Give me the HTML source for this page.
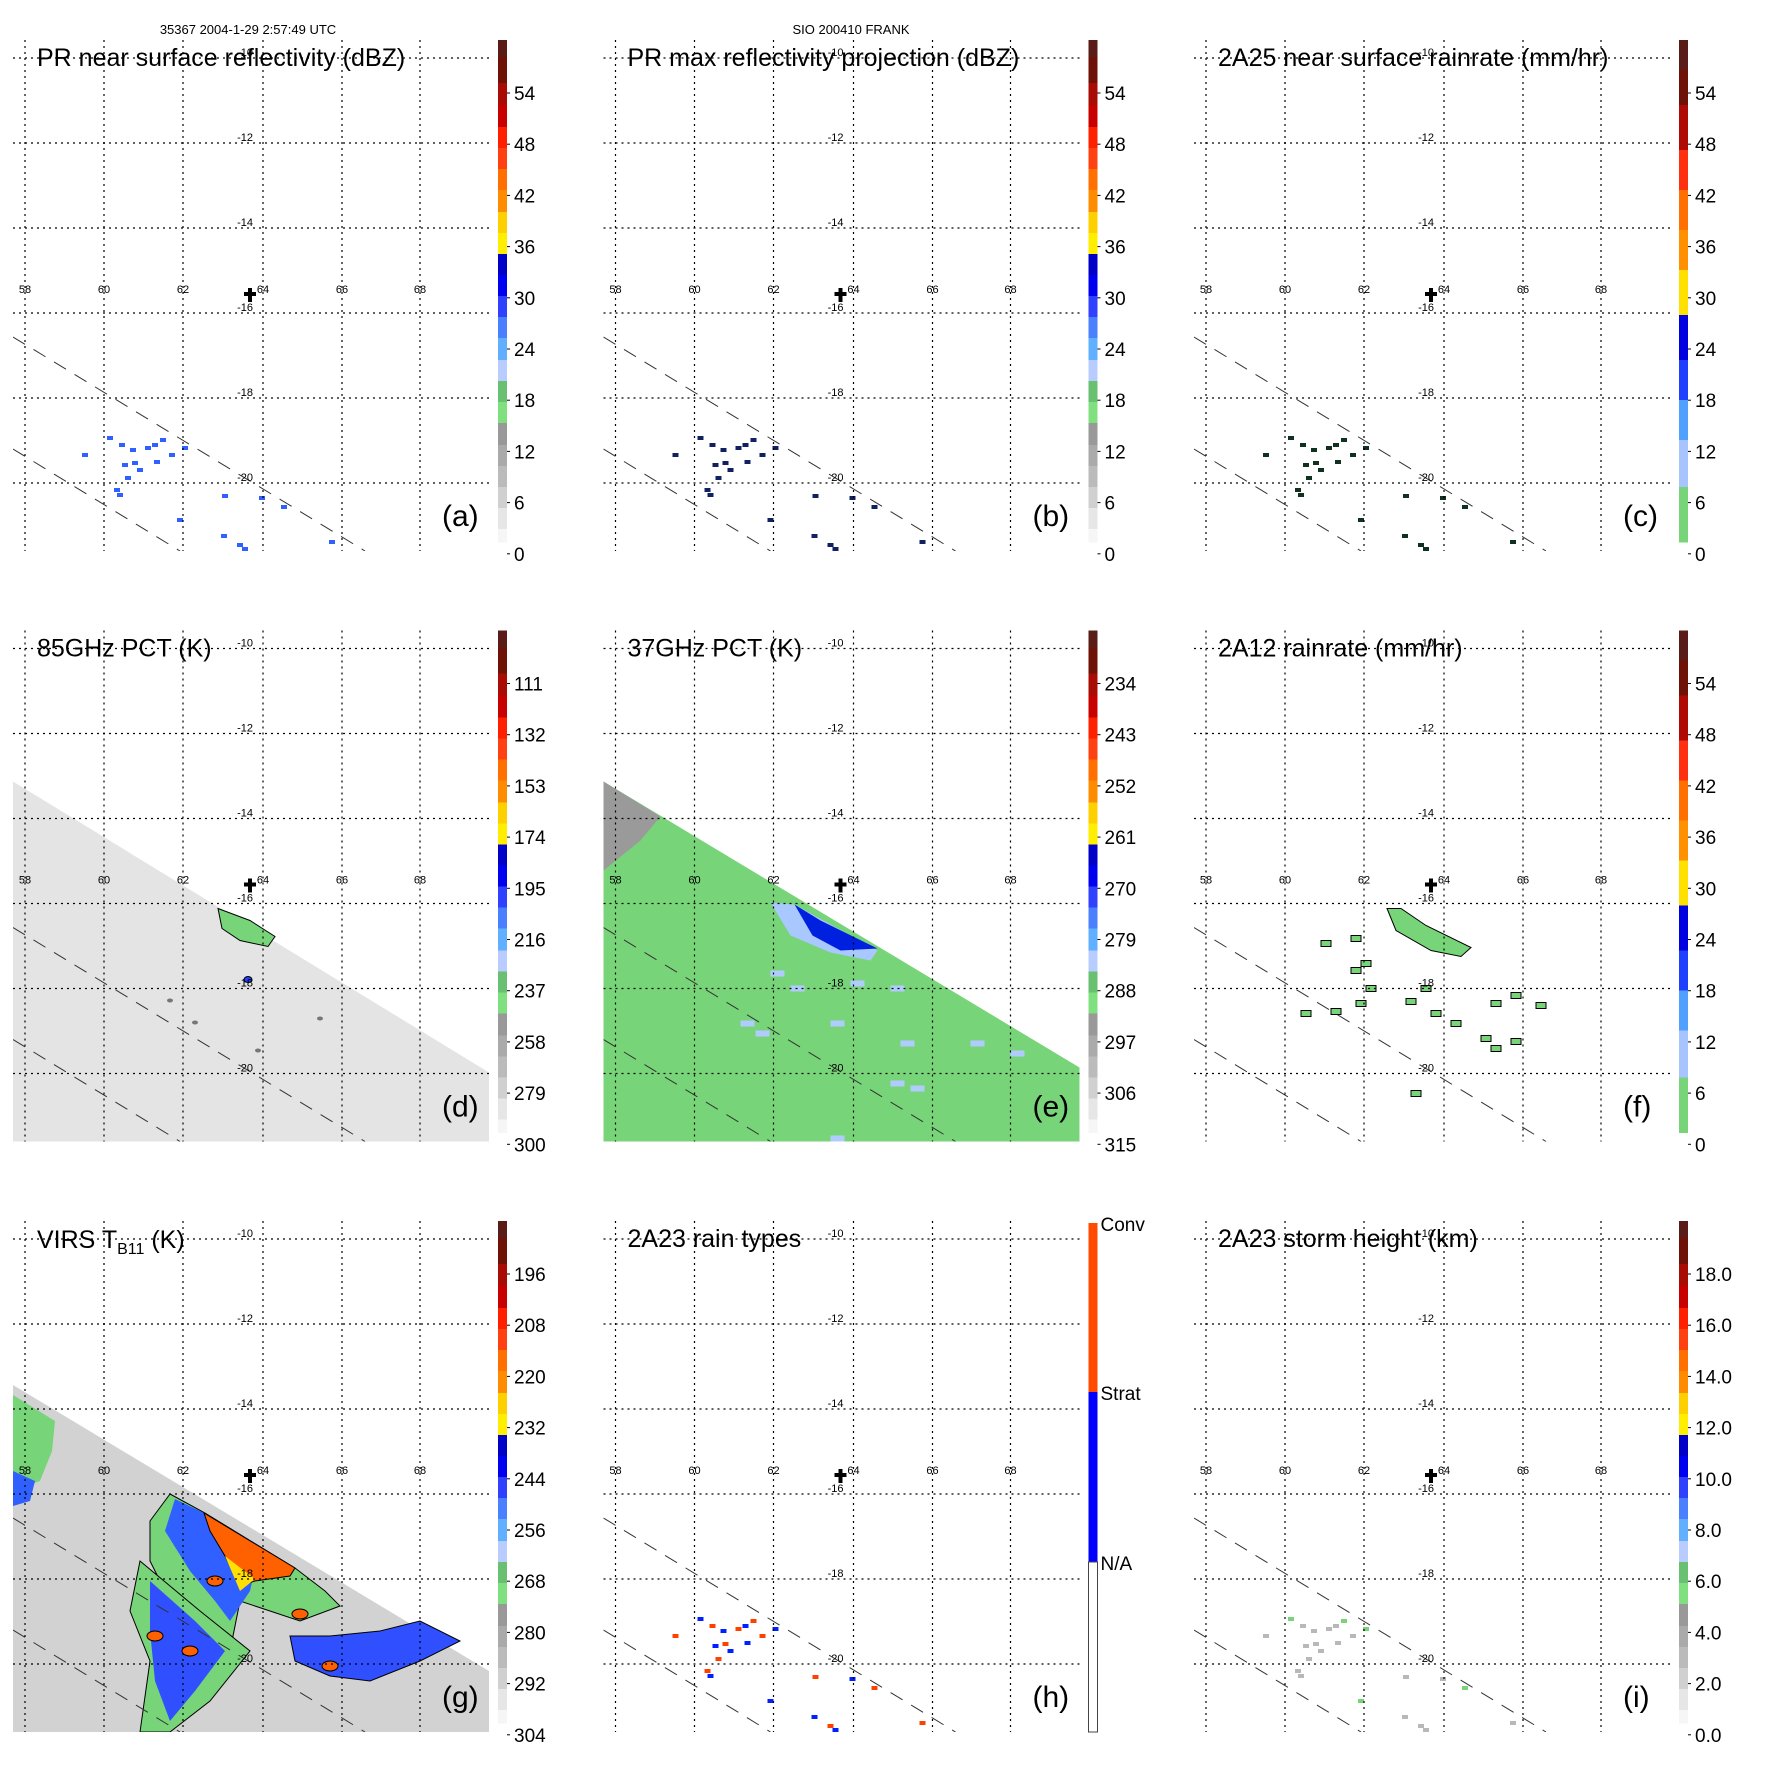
<!DOCTYPE html>
<html><head><meta charset="utf-8"><style>
html,body{margin:0;padding:0;background:#fff;}
svg{display:block;font-family:"Liberation Sans",sans-serif;}
</style></head><body>
<svg id="s" width="1771" height="1771" viewBox="0 0 1771 1771" xmlns="http://www.w3.org/2000/svg">
<rect width="1771" height="1771" fill="#fff"/>
<text x="248" y="34" font-size="13" text-anchor="middle">35367 2004-1-29 2:57:49 UTC</text>
<text x="851" y="34" font-size="13" text-anchor="middle">SIO 200410 FRANK</text>
</svg>
<script>
(function(){
var S=document.getElementById('s'),NS='http://www.w3.org/2000/svg',W=590.5;
function el(t,a,p,txt){var e=document.createElementNS(NS,t);for(var k in a)e.setAttribute(k,a[k]);if(txt!=null)e.textContent=txt;(p||S).appendChild(e);return e;}
var std=[[40,57,"#5a1c16"],[57,83,"#6e1208"],[83,105,"#a80c04"],[105,127,"#c80000"],[127,148,"#ff2000"],[148,169,"#ff4010"],[169,190,"#ff7000"],[190,212,"#ff8c00"],[212,233,"#ffd000"],[233,254,"#ffee00"],[254,275,"#0000c8"],[275,296,"#0000f0"],[296,317,"#3040ff"],[317,338,"#4a80ff"],[338,360,"#60b0ff"],[360,381,"#b8ccff"],[381,402,"#68c070"],[402,423,"#80e080"],[423,445,"#999"],[445,466,"#aaa"],[466,487,"#bbb"],[487,508,"#d0d0d0"],[508,529,"#e6e6e6"],[529,542,"#f6f6f6"]];
var rr=[[40,70,"#5a1c16"],[70,105,"#6e1208"],[105,150,"#b00a04"],[150,190,"#ff3010"],[190,230,"#ff7000"],[230,270,"#ff9000"],[270,315,"#ffe000"],[315,360,"#0000e0"],[360,400,"#2040ff"],[400,440,"#50a0ff"],[440,487,"#a8c4ff"],[487,542,"#78d478"]];
var P=[
{c:0,r:0,t:"PR near surface reflectivity (dBZ)",l:"(a)",cb:std,tk:["54","48","42","36","30","24","18","12","6","0"],d:"a"},
{c:1,r:0,t:"PR max reflectivity projection (dBZ)",l:"(b)",cb:std,tk:["54","48","42","36","30","24","18","12","6","0"],d:"b"},
{c:2,r:0,t:"2A25 near surface rainrate (mm/hr)",l:"(c)",cb:rr,tk:["54","48","42","36","30","24","18","12","6","0"],d:"c"},
{c:0,r:1,t:"85GHz PCT (K)",l:"(d)",cb:std,tk:["111","132","153","174","195","216","237","258","279","300"],d:"d"},
{c:1,r:1,t:"37GHz PCT (K)",l:"(e)",cb:std,tk:["234","243","252","261","270","279","288","297","306","315"],d:"e"},
{c:2,r:1,t:"2A12 rainrate (mm/hr)",l:"(f)",cb:rr,tk:["54","48","42","36","30","24","18","12","6","0"],d:"f"},
{c:0,r:2,t:"VIRS",l:"(g)",cb:std,tk:["196","208","220","232","244","256","268","280","292","304"],d:"g"},
{c:1,r:2,t:"2A23 rain types",l:"(h)",cb:null,d:"h"},
{c:2,r:2,t:"2A23 storm height (km)",l:"(i)",cb:std,tk:["18.0","16.0","14.0","12.0","10.0","8.0","6.0","4.0","2.0","0.0"],d:"i"}];
var gx=[25,104,183,263,342,420],gy=[58,143,228,313,398,483],lon=["58","60","62","64","66","68"],lat=["-10","-12","-14","-16","-18","-20"];
var pts=[[110,438],[122,445],[133,450],[148,448],[155,445],[163,440],[125,465],[135,463],[157,462],[172,455],[185,448],[117,490],[120,495],[225,496],[262,498],[284,507],[224,536],[240,545],[245,549],[332,542],[180,520],[85,455],[140,470],[128,478]];
var id=0;
P.forEach(function(p){
 var g=el('g',{transform:'translate('+(p.c*W)+','+(p.r*W)+')'});
 id++;var cp=el('clipPath',{id:'c'+id},g);el('rect',{x:13,y:40,width:476,height:511},cp);
 var dg=el('g',{'clip-path':'url(#c'+id+')'},g);
 if(p.d=="d"){el('polygon',{points:"13,191 489,482 489,551 13,551",fill:"#e4e4e4"},dg);
  el('polygon',{points:"218,318 250,330 275,346 268,356 240,350 222,338",fill:"#78d478",stroke:"#000","stroke-width":1},dg);
  [[246,390],[170,410],[195,432],[320,428],[258,460]].forEach(function(q){el('ellipse',{cx:q[0],cy:q[1],rx:3,ry:2,fill:"#777"},dg);});
  el('ellipse',{cx:248,cy:389,rx:4,ry:3,fill:"#2040ff",stroke:"#000"},dg);}
 if(p.d=="e"){el('polygon',{points:"13,191 489,477 489,551 13,551",fill:"#78d478"},dg);
  el('polygon',{points:"13,191 70,226 50,250 13,280",fill:"#9a9a9a"},dg);
  el('polygon',{points:"180,312 204,314 287,360 280,370 240,362 200,345",fill:"#a8c8ff"},dg);
  el('polygon',{points:"204,314 230,330 287,358 250,360 222,345",fill:"#0020e0"},dg);
  [[180,380],[200,395],[260,390],[300,395],[150,430],[165,440],[240,430],[310,450],[320,495],[300,490],[380,450],[240,545],[420,460]].forEach(function(q){el('rect',{x:q[0],y:q[1],width:14,height:6,fill:"#b0ccff"},dg);});}
 if(p.d=="g"){el('polygon',{points:"13,204 489,490 489,551 13,551",fill:"#d2d2d2"},dg);
  el('polygon',{points:"13,214 55,240 52,270 40,300 13,310",fill:"#78d478"},dg);
  el('polygon',{points:"13,290 35,300 30,320 13,325",fill:"#3060ff"},dg);
  el('polygon',{points:"170,313 205,332 295,387 325,410 340,425 300,440 270,430 240,420 230,470 200,450 170,420 150,380 150,340",fill:"#78d478",stroke:"#000","stroke-width":1},dg);
  el('polygon',{points:"175,318 204,332 260,365 250,410 230,440 215,420 190,390 165,350",fill:"#3060ff"},dg);
  el('polygon',{points:"204,332 295,387 290,395 255,400 240,405 225,375 210,350",fill:"#ff6000",stroke:"#000","stroke-width":1},dg);
  el('polygon',{points:"225,375 255,398 240,410",fill:"#ffe000"},dg);
  el('polygon',{points:"140,380 200,430 250,470 210,520 170,551 140,551 150,480 130,430",fill:"#78d478",stroke:"#000","stroke-width":1},dg);
  el('polygon',{points:"150,400 195,440 225,470 195,510 170,540 155,500 150,450",fill:"#3050ff"},dg);
  el('polygon',{points:"290,455 330,455 380,450 420,440 460,460 420,480 370,500 330,495 295,480",fill:"#3050ff",stroke:"#000","stroke-width":1},dg);
  [[190,470],[155,455],[330,485],[300,433],[215,400]].forEach(function(q){el('ellipse',{cx:q[0],cy:q[1],rx:8,ry:5,fill:"#ff6000",stroke:"#000"},dg);});}
 if(p.d=="f"){el('polygon',{points:"206,318 220,318 245,335 290,357 280,366 250,360 215,340",fill:"#78d478",stroke:"#000"},dg);
  [[140,350],[170,345],[180,370],[185,395],[150,418],[175,410],[120,420],[240,395],[225,408],[250,420],[270,430],[310,410],[330,402],[355,412],[300,445],[310,455],[330,448],[230,500],[170,377]].forEach(function(q){el('rect',{x:q[0],y:q[1],width:10,height:6,fill:"#78d478",stroke:"#000","stroke-width":1},dg);});}
 var cm={a:"#3060ff",b:"#102060",c:"#103020",h:"#0020ff",i:"#b8b8b8"};
 if(cm[p.d]){pts.forEach(function(q,k){var col=cm[p.d];if(p.d=="h"&&k%2)col="#ff4000";if(p.d=="i"&&k%5==0)col="#78d478";
  el('rect',{x:q[0]-3,y:q[1]-2,width:6,height:4,fill:col},dg);});}
 gx.forEach(function(x){el('line',{x1:x,y1:40,x2:x,y2:551,stroke:"#000","stroke-width":1.2,"stroke-dasharray":"2,4"},g);});
 gy.forEach(function(y){el('line',{x1:13,y1:y,x2:489,y2:y,stroke:"#000","stroke-width":1.2,"stroke-dasharray":"2,4"},g);});
 el('line',{x1:13,y1:337,x2:365,y2:551,stroke:"#333","stroke-width":1,"stroke-dasharray":"14,10"},dg);
 el('line',{x1:13,y1:449,x2:180,y2:551,stroke:"#333","stroke-width":1,"stroke-dasharray":"14,10"},dg);
 gx.forEach(function(x,i){el('text',{x:x,y:293,'font-size':11,'text-anchor':'middle'},g,lon[i]);});
 gy.forEach(function(y,i){el('text',{x:253,y:y-2,'font-size':11,'text-anchor':'end'},g,lat[i]);});
 el('path',{d:"M244,294h12M250,288v14",stroke:"#000","stroke-width":4},g);
 if(p.d=="g"){var t=el('text',{x:37,y:67,'font-size':25},g);
  el('tspan',{},t,"VIRS T");el('tspan',{'font-size':16,dy:6},t,"B11");el('tspan',{dy:-6},t," (K)");}
 else el('text',{x:37,y:66,'font-size':25},g,p.t);
 el('text',{x:442,y:526,'font-size':30},g,p.l);
 if(p.cb){p.cb.forEach(function(s){el('rect',{x:498,y:s[0],width:9,height:s[1]-s[0]+0.5,fill:s[2]},g);});
  p.tk.forEach(function(v,i){var y=93+i*51.2;el('line',{x1:507,y1:y,x2:510,y2:y,stroke:"#000"},g);
   el('text',{x:514,y:y+7,'font-size':19},g,v);});}
 else{el('rect',{x:498,y:42,width:9,height:169,fill:"#ff4a00"},g);el('rect',{x:498,y:211,width:9,height:170,fill:"#0000ff"},g);
  el('rect',{x:498,y:381,width:9,height:170,fill:"#fff",stroke:"#444"},g);
  [["Conv",42],["Strat",211],["N/A",381]].forEach(function(q){el('text',{x:510,y:q[1]+8,'font-size':19},g,q[0]);});}
});
})();
</script>
</body></html>
